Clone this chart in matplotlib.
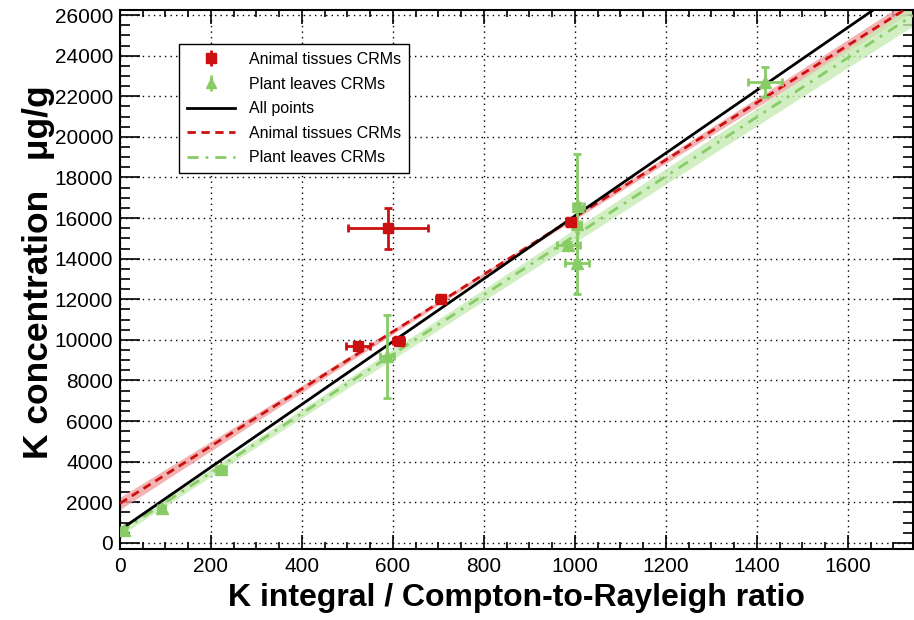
import numpy as np
import matplotlib
matplotlib.use("Agg")
import matplotlib.pyplot as plt
from matplotlib.ticker import MultipleLocator

plt.rcParams['font.family'] = ['Liberation Sans', 'DejaVu Sans']

# ---- measured reference materials ----
animal_x = [523, 589, 613, 705, 991]
animal_xerr = [26, 88, 12, 10, 10]
animal_y = [9680, 15500, 9950, 12000, 15800]
animal_yerr = [150, 1000, 150, 200, 200]

plant_x = [8, 92, 222, 587, 985, 1004, 1005, 1007, 1418]
plant_xerr = [5, 8, 10, 15, 25, 26, 8, 12, 37]
plant_y = [650, 1700, 3650, 9185, 14670, 13780, 15700, 16590, 22700]
plant_yerr = [100, 120, 150, 2050, 150, 150, 3450, 150, 740]

# ---- linear calibration fits: intercept, slope ----
fit_all = (640.0, 15.47)
fit_animal = (1950.0, 14.10)
fit_plant = (540.0, 14.60)
# parameter uncertainties: sigma_intercept, sigma_slope, covariance
err_animal = (300.0, 0.35, -100.0)
err_plant = (180.0, 0.28, 0.0)

RED = '#cc1010'
GREEN = '#88cc66'
RED_BAND = '#f2a0a0'
GREEN_BAND = '#c6ecb4'

fig = plt.figure(figsize=(9.14, 6.2), dpi=100)
ax = fig.add_axes([120 / 914, 71 / 620, 793 / 914, 539 / 620])

xmin, xmax = 0, 1743
ymin, ymax = -300, 26250
xs = np.linspace(xmin, xmax, 300)


def line(p, x):
    return p[0] + p[1] * x


def band(e, x):
    sa, sb, cov = e
    return np.sqrt(sa ** 2 + 2 * x * cov + (x * sb) ** 2)


# confidence bands
ya = line(fit_animal, xs)
ha = band(err_animal, xs)
ax.fill_between(xs, ya - ha, ya + ha, color=RED_BAND, alpha=0.8, lw=0, zorder=2)
yp = line(fit_plant, xs)
hp = band(err_plant, xs)
ax.fill_between(xs, yp - hp, yp + hp, color=GREEN_BAND, alpha=0.8, lw=0, zorder=2)

# fit lines
l_all, = ax.plot(xs, line(fit_all, xs), color='black', lw=2.0, zorder=4,
                 label='All points')
l_an, = ax.plot(xs, ya, color=RED, lw=2.0, ls=(0, (3, 2)), zorder=3,
                label='Animal tissues CRMs')
l_pl, = ax.plot(xs, yp, color=GREEN, lw=2.0, ls=(0, (4, 2.5, 1, 2.5)), zorder=3,
                label='Plant leaves CRMs')

# data points
ax.errorbar(plant_x, plant_y, xerr=plant_xerr, yerr=plant_yerr, fmt='^',
            color=GREEN, ms=8, elinewidth=2, capsize=3, capthick=2, zorder=5)
ax.errorbar(animal_x, animal_y, xerr=animal_xerr, yerr=animal_yerr, fmt='s',
            color=RED, ms=6.5, elinewidth=2, capsize=3, capthick=2, zorder=6)

# legend proxies (vertical error bar only)
h_an = ax.errorbar([], [], yerr=[], fmt='s', color=RED, ms=6.5, elinewidth=2,
                   capsize=4, capthick=2, label='Animal tissues CRMs')
h_pl = ax.errorbar([], [], yerr=[], fmt='^', color=GREEN, ms=7.5, elinewidth=2,
                   capsize=4, capthick=2, label='Plant leaves CRMs')

leg = ax.legend([h_an, h_pl, l_all, l_an, l_pl],
                ['Animal tissues CRMs', 'Plant leaves CRMs', 'All points',
                 'Animal tissues CRMs', 'Plant leaves CRMs'],
                loc='upper left', bbox_to_anchor=(179 / 914, 1 - 44 / 620),
                bbox_transform=fig.transFigure, fontsize=11.5,
                frameon=True, fancybox=False, shadow=False, framealpha=1,
                edgecolor='black', handlelength=3.0, handletextpad=0.9,
                labelspacing=0.6, borderpad=0.5, borderaxespad=0)
leg.get_frame().set_linewidth(1.0)
leg.set_zorder(10)

ax.set_xlim(xmin, xmax)
ax.set_ylim(ymin, ymax)

ax.xaxis.set_major_locator(MultipleLocator(200))
ax.xaxis.set_minor_locator(MultipleLocator(50))
ax.yaxis.set_major_locator(MultipleLocator(2000))
ax.yaxis.set_minor_locator(MultipleLocator(500))

ax.grid(True, which='major', color='black', ls=(0, (1, 3)), lw=1.0, zorder=1)
ax.set_axisbelow(True)

ax.tick_params(which='both', direction='in', top=True, right=True,
               labelsize=15, width=1.2, color='black')
ax.tick_params(axis='x', which='major', length=10, pad=6)
ax.tick_params(axis='x', which='minor', length=5)
ax.tick_params(axis='y', which='major', length=14.4, pad=5)
ax.tick_params(axis='y', which='minor', length=7.2)

for s in ax.spines.values():
    s.set_linewidth(1.5)

ax.set_xlabel('K integral / Compton-to-Rayleigh ratio', fontsize=23,
              fontweight='bold', labelpad=5)
ax.set_ylabel('K concentration   \u03bcg/g', fontsize=25.5, fontweight='bold')
ax.yaxis.set_label_coords(-0.082, 0.514)

fig.savefig('out.png', dpi=100)
